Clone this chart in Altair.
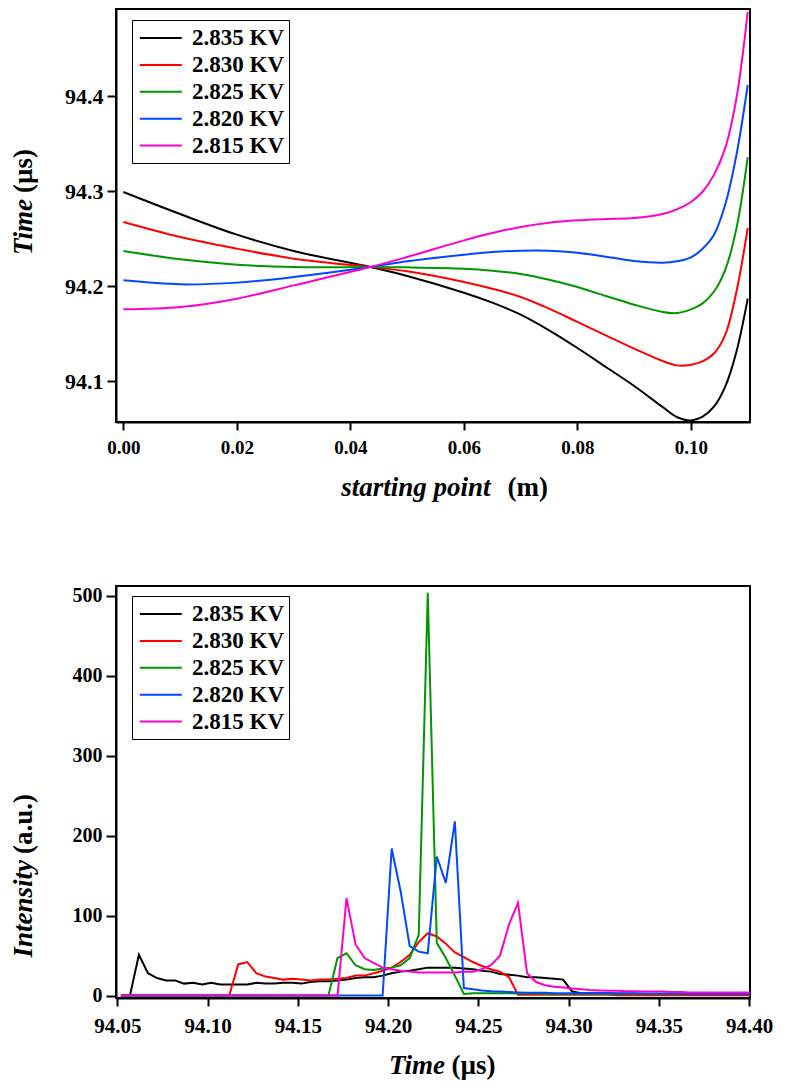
import altair as alt
import pandas as pd

FONT = "Liberation Serif"
SERIES = ["2.835 KV", "2.830 KV", "2.825 KV", "2.820 KV", "2.815 KV"]
COLORS = ["#000000", "#ff0000", "#009600", "#0048ff", "#ff00cc"]

# ---------------- top panel: arrival time vs starting point ----------------
START_POINT = [0.0, 0.01, 0.02, 0.03, 0.0435, 0.05, 0.06, 0.065, 0.07, 0.075, 0.08,
               0.085, 0.09, 0.095, 0.0975, 0.1, 0.102, 0.104, 0.106, 0.108, 0.11]
TIME_2835 = [94.2993, 94.2761, 94.2544, 94.2372, 94.2203, 94.2109, 94.1933, 94.1828,
             94.1702, 94.1537, 94.1351, 94.1151, 94.0951, 94.0730, 94.0625, 94.0589,
             94.0625, 94.0730, 94.0940, 94.1309, 94.1870]
TIME_2830 = [94.2677, 94.2519, 94.2397, 94.2291, 94.2203, 94.2158, 94.2046, 94.1975,
             94.1888, 94.1765, 94.1625, 94.1484, 94.1344, 94.1214, 94.1168, 94.1175,
             94.1211, 94.1291, 94.1484, 94.1940, 94.2614]
TIME_2825 = [94.2372, 94.2284, 94.2228, 94.2203, 94.2203, 94.2200, 94.2186, 94.2165,
             94.2130, 94.2070, 94.1993, 94.1898, 94.1807, 94.1730, 94.1719, 94.1758,
             94.1818, 94.1940, 94.2168, 94.2607, 94.3361]
TIME_2820 = [94.2063, 94.2021, 94.2039, 94.2098, 94.2203, 94.2263, 94.2333, 94.2361,
             94.2375, 94.2375, 94.2354, 94.2312, 94.2267, 94.2249, 94.2263, 94.2305,
             94.2393, 94.2537, 94.2853, 94.3379, 94.4119]
TIME_2815 = [94.1758, 94.1782, 94.1870, 94.2010, 94.2203, 94.2309, 94.2484, 94.2561,
             94.2625, 94.2670, 94.2695, 94.2709, 94.2719, 94.2761, 94.2810, 94.2888,
             94.2993, 94.3168, 94.3449, 94.3975, 94.4888]

TOP_X_TICKS = [0.0, 0.02, 0.04, 0.06, 0.08, 0.10]
TOP_Y_TICKS = [94.1, 94.2, 94.3, 94.4]

# ---------------- bottom panel: intensity vs time of flight ----------------
T0 = 94.052
DT = 0.005
INT_2835 = [0, 0, 51, 28, 22, 19, 19, 15, 16, 14, 16, 14, 14, 14, 14, 16, 15, 15, 16, 16,
            15, 17, 18, 18, 19, 20, 22, 23, 23, 25, 28, 30, 31, 33, 35, 35, 35, 35, 34, 33,
            31, 30, 27, 26, 25, 23, 23, 22, 21, 20, 5, 3, 3, 3, 3, 2.5, 2.5, 2.5, 2, 2,
            2, 2, 2, 2, 2, 2, 2, 2, 2, 2, 2]
INT_2830 = [0, 0, 0, 0, 0, 0, 0, 0, 0, 0, 0, 0, 0, 39, 42, 28, 24, 22, 20, 21,
            20, 19, 20, 20, 21, 22, 25, 25, 28, 31, 35, 42, 51, 67, 78, 74, 65, 54, 48, 42,
            37, 33, 30, 23, 1, 1, 1, 1, 1, 1, 1, 1, 1, 1, 1, 0.5, 0.5, 0.5, 0.5, 0.5,
            0.5, 0.5, 0.5, 0.5, 0.5, 0.5, 0.5, 0.5, 0.5, 0.5, 0.5]
INT_2825 = [0, 0, 0, 0, 0, 0, 0, 0, 0, 0, 0, 0, 0, 0, 0, 0, 0, 0, 0, 0,
            0, 0, 0, 0, 47, 53, 38, 33, 32, 34, 35, 38, 47, 76, 504, 66, 47, 25, 2, 3,
            3, 3, 3, 3, 2.5, 2.5, 2.5, 2, 2, 2, 2, 2, 2, 2, 2, 2, 2, 2, 2, 2,
            2, 2, 2, 2, 2, 2, 2, 2, 2, 2, 2]
INT_2820 = [0, 0, 0, 0, 0, 0, 0, 0, 0, 0, 0, 0, 0, 0, 0, 0, 0, 0, 0, 0,
            0, 0, 0, 0, 0, 0, 0, 0, 0, 0, 184, 130, 62, 55, 53, 174, 141, 218, 9.5, 8,
            6.5, 5.5, 5, 4.5, 4, 3.5, 3.5, 3.5, 3, 3, 3, 3, 3, 3, 3, 2.5, 2.5, 2.5, 2.5, 2.5,
            2.5, 2.5, 2.5, 2, 2, 2, 2, 2, 2, 2, 2]
INT_2815 = [0, 0, 0, 0, 0, 0, 0, 0, 0, 0, 0, 0, 0, 0, 0, 0, 0, 0, 0, 0,
            0, 0, 0, 0, 0, 122, 64, 47, 41, 35, 33, 31, 30, 29, 29, 29, 29, 29, 30, 30,
            33, 38, 50, 89, 116, 28, 17, 13, 11, 10, 9, 8, 7, 6.5, 6, 6, 5.5, 5.5, 5, 5,
            5, 4.5, 4.5, 4, 4, 4, 4, 4, 4, 4, 4]

BOT_X_TICKS = [94.05, 94.10, 94.15, 94.20, 94.25, 94.30, 94.35, 94.40]
BOT_Y_TICKS = [0, 100, 200, 300, 400, 500]

# ---------------- tables ----------------
top_rows = []
for name, vals in zip(SERIES, [TIME_2835, TIME_2830, TIME_2825, TIME_2820, TIME_2815]):
    for x, v in zip(START_POINT, vals):
        top_rows.append({"x": x, "v": v, "s": name})
top_df = pd.DataFrame(top_rows)

bot_rows = []
for name, vals in zip(SERIES, [INT_2835, INT_2830, INT_2825, INT_2820, INT_2815]):
    for k, v in enumerate(vals):
        bot_rows.append({"t": round(T0 + DT * k, 4), "v": v, "s": name})
bot_df = pd.DataFrame(bot_rows)

TOP_W, TOP_H = 634, 413
BOT_W, BOT_H = 634, 412
TITLE_X = -84.5


def legend(x, y):
    return alt.Legend(
        title=None, orient="none", legendX=x, legendY=y,
        symbolType="M -0.85 0 L 2.65 0", symbolSize=576, symbolStrokeWidth=2,
        labelFont=FONT, labelFontWeight="bold", labelFontSize=23, labelColor="black",
        labelOffset=29, padding=5, rowPadding=1.9, columnPadding=0,
        strokeColor="black", fillColor="white",
    )


def title_text(label, x, y, angle=0, align="center", italic=False, size=27):
    kw = dict(font=FONT, fontSize=size, fontWeight="bold", color="black",
              align=align, baseline="alphabetic")
    if angle:
        kw["angle"] = angle
    if italic:
        kw["fontStyle"] = "italic"
    return alt.Chart(pd.DataFrame({"lbl": [label]})).mark_text(**kw).encode(
        text="lbl:N", x=alt.value(x), y=alt.value(y)
    )


axis_common = dict(
    grid=False, domainColor="black", domainWidth=2, tickColor="black", tickWidth=2,
    labelFont=FONT, labelFontWeight="bold", labelColor="black",
    labelFlush=False, labelOverlap=False, title=None,
)

top_lines = alt.Chart(top_df).mark_line(strokeWidth=2, interpolate="catmull-rom", clip=True).encode(
    x=alt.X("x:Q", scale=alt.Scale(domain=[-0.0013, 0.1104], nice=False, zero=False),
            axis=alt.Axis(values=TOP_X_TICKS, format=".2f", labelFontSize=19,
                          tickSize=8, labelPadding=8, **axis_common)),
    y=alt.Y("v:Q", scale=alt.Scale(domain=[94.0572, 94.4919], nice=False, zero=False),
            axis=alt.Axis(values=TOP_Y_TICKS, format=".1f", labelFontSize=22,
                          tickSize=9, labelPadding=4, **axis_common)),
    color=alt.Color("s:N", scale=alt.Scale(domain=SERIES, range=COLORS), legend=legend(16, 11)),
)

top = alt.layer(
    top_lines,
    title_text("Time", TITLE_X, 190, angle=270, align="right", italic=True),
    title_text("(\u00b5s)", TITLE_X, 184, angle=270, align="left"),
    title_text("starting point", 374.5, 487, align="right", italic=True),
    title_text("(m)", 391.5, 487, align="left"),
).properties(width=TOP_W, height=TOP_H)

bot_lines = alt.Chart(bot_df).mark_line(strokeWidth=2, clip=True).encode(
    x=alt.X("t:Q", scale=alt.Scale(domain=[94.0493, 94.4005], nice=False, zero=False),
            axis=alt.Axis(values=BOT_X_TICKS, format=".2f", labelFontSize=21,
                          tickSize=8, labelPadding=9, **axis_common)),
    y=alt.Y("v:Q", scale=alt.Scale(domain=[-3, 512.5], nice=False, zero=False),
            axis=alt.Axis(values=BOT_Y_TICKS, format="d", labelFontSize=20,
                          tickSize=10, labelPadding=4, **axis_common)),
    color=alt.Color("s:N", scale=alt.Scale(domain=SERIES, range=COLORS), legend=legend(16, 10)),
)

bottom = alt.layer(
    bot_lines,
    title_text("Intensity", TITLE_X, 274, angle=270, align="right", italic=True),
    title_text("(a.u.)", TITLE_X, 268, angle=270, align="left"),
    title_text("Time", 329, 488, align="right", italic=True),
    title_text("(\u00b5s)", 335.5, 488, align="left"),
).properties(width=BOT_W, height=BOT_H)

chart = alt.vconcat(top, bottom, spacing=164, bounds="flush").resolve_scale(
    color="independent"
).resolve_legend(color="independent").properties(
    padding={"left": 0, "top": 0, "right": 0, "bottom": 0}
).configure(background="white").configure_view(stroke="black", strokeWidth=2)

chart.save("out.html", embed_options={"renderer": "svg", "actions": False})
